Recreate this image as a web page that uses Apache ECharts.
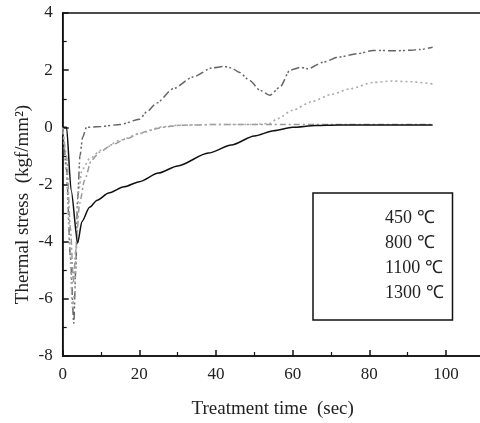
<!DOCTYPE html>
<html>
<head>
<meta charset="utf-8">
<script src="https://cdn.jsdelivr.net/npm/echarts@6/dist/echarts.min.js"></script>
<style>html,body{margin:0;padding:0;background:#fff}#c{width:480px;height:423px}</style>
</head>
<body>
<div id="c"></div>
<script>
const seriesNames = ['450℃', '800℃', '1100℃', '1300℃'];
const xTicks = [0, 20, 40, 60, 80, 100];
const yTicks = [-8, -6, -4, -2, 0, 2, 4];

const data450 = [[0,0],[1,0],[2.2,-2.2],[3.9,-4.05],[5,-3.3],[7,-2.8],[9,-2.55],[12,-2.3],[16,-2.08],[20,-1.9],[25,-1.6],[30,-1.35],[38,-0.9],[44,-0.62],[50,-0.3],[55,-0.12],[60,0.0],[66,0.06],[72,0.08],[96.5,0.08]];
const data800 = [[0,0],[0.8,-1],[1.8,-4],[2.5,-6.3],[3.1,-5.8],[3.6,-4],[4.2,-2.2],[5,-1.5],[7,-1.1],[10,-0.8],[15,-0.45],[20,-0.22],[26,0.02],[30,0.07],[40,0.1],[50,0.1],[54,0.14],[56,0.3],[60,0.6],[65,0.9],[70,1.15],[75,1.35],[81,1.57],[86,1.62],[90,1.6],[96.5,1.52]];
const data1100 = [[0,0],[1,-1],[2,-3.5],[2.8,-5.4],[3.4,-4.3],[4.4,-2.67],[5.7,-1.85],[7.5,-1.15],[9.7,-0.86],[13,-0.6],[16.7,-0.4],[20,-0.22],[22.7,-0.1],[26,0.0],[30.5,0.07],[40,0.1],[55,0.1],[70,0.1],[96.5,0.1]];
const data1300 = [[0,0],[1,-1.5],[2,-4.5],[2.9,-6.85],[3.4,-5],[3.9,-2.5],[4.5,-1],[5.2,-0.35],[6.2,0],[10,0.03],[15,0.1],[20,0.28],[22,0.55],[24.5,0.85],[28.8,1.35],[34,1.76],[39,2.08],[42,2.13],[44,2.08],[46,1.93],[48.8,1.64],[51.4,1.3],[54,1.12],[56.7,1.41],[59.3,2.0],[62,2.1],[64,2.05],[68,2.28],[72,2.46],[77,2.58],[81,2.69],[87,2.68],[91,2.7],[93,2.72],[96.5,2.8]];

const serif = "'Liberation Serif', 'Times New Roman', serif";
const chart = echarts.init(document.getElementById('c'), null, {renderer: 'canvas'});

const styles = [
  {color: '#111', width: 1.5, type: 'solid'},
  {color: '#aaa', width: 1.6, type: [2, 3]},
  {color: '#999', width: 1.5, type: [6, 3, 2, 3]},
  {color: '#666', width: 1.5, type: [8, 3, 2, 2, 2, 3]}
];
const allData = [data450, data800, data1100, data1300];

chart.setOption({
  animation: false,
  backgroundColor: '#fff',
  grid: {left: 62.7, width: 460, top: 13, height: 343, show: true, borderColor: '#111', borderWidth: 1.5,
    containLabel: false, outerBoundsMode: 'none'},
  legend: {
    orient: 'vertical', left: 313, top: 193,
    padding: [16, 9, 18, 22],
    borderColor: '#111', borderWidth: 1.5,
    itemGap: 7, itemWidth: 45, itemHeight: 18,
    formatter: n => n.replace('℃', ' ℃'),
    textStyle: {fontFamily: serif, fontSize: 18, color: '#222'},
    data: seriesNames.map(n => ({name: n, icon: 'none', itemStyle: {opacity: 0}, lineStyle: {color: '#e6e6e6', width: 1, type: 'dotted'}}))
  },
  xAxis: {
    type: 'value', min: 0, max: 120, interval: 20,
    name: 'Treatment time  (sec)', nameLocation: 'middle', nameGap: 44,
    nameTextStyle: {fontFamily: serif, fontSize: 19, color: '#222', padding: [0, 40, 0, 0]},
    axisLine: {show: true, onZero: false, lineStyle: {color: '#111', width: 1.5}},
    axisTick: {show: true, inside: true, length: 6, lineStyle: {color: '#111', width: 1.5}},
    minorTick: {show: true, splitNumber: 2, length: 4, lineStyle: {color: '#111', width: 1.2}},
    axisLabel: {fontFamily: serif, fontSize: 17, color: '#222', margin: 10,
      formatter: v => xTicks.indexOf(v) >= 0 ? String(v) : ''},
    splitLine: {show: false}, minorSplitLine: {show: false}
  },
  yAxis: {
    type: 'value', min: -8, max: 4, interval: 2,
    name: 'Thermal stress  (kgf/mm²)', nameLocation: 'middle', nameGap: 30, nameMoveOverlap: false,
    nameTextStyle: {fontFamily: serif, fontSize: 19, color: '#222', padding: [0, 40, 0, 0]},
    axisLine: {show: true, onZero: false, lineStyle: {color: '#111', width: 1.5}},
    axisTick: {show: true, inside: true, length: 6, lineStyle: {color: '#111', width: 1.5}},
    minorTick: {show: true, splitNumber: 2, length: 4, lineStyle: {color: '#111', width: 1.2}},
    axisLabel: {fontFamily: serif, fontSize: 17, color: '#222', margin: 10,
      formatter: v => yTicks.indexOf(v) >= 0 ? String(v) : ''},
    splitLine: {show: false}, minorSplitLine: {show: false}
  },
  series: seriesNames.map((n, i) => ({
    name: n, type: 'line', data: allData[i], symbol: 'none', showSymbol: false,
    smooth: 0.25, smoothMonotone: 'x',
    lineStyle: styles[i], itemStyle: {color: styles[i].color}, z: 4 - i
  }))
});
</script>
</body>
</html>
